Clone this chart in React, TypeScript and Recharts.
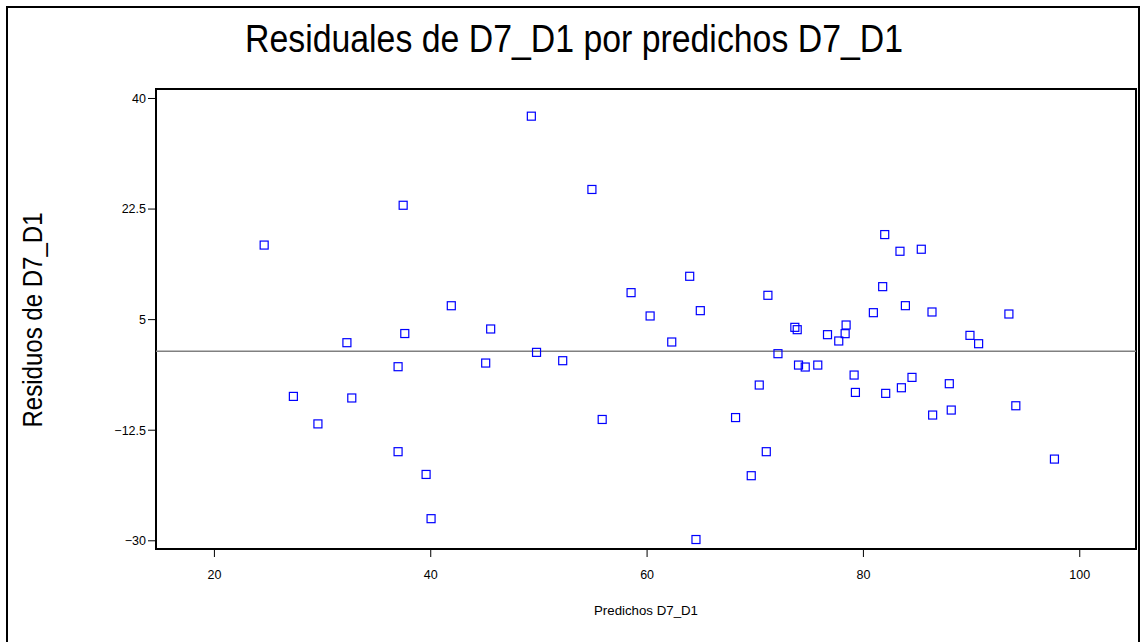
import { ScatterChart, Scatter, XAxis, YAxis, ReferenceLine, ReferenceArea } from "recharts";

// valores (predicho, residuo)
const predichos = [
  24.6, 37.45, 41.9, 37.6, 32.25, 36.98, 27.3, 32.7, 29.57, 36.98, 39.57, 40.03,
  49.3, 54.9, 63.94, 58.52, 71.17, 64.92, 60.28, 45.54, 62.28, 49.78, 72.1, 45.08,
  52.2, 70.37, 55.85, 68.18, 71.02, 69.63, 64.52, 81.97, 83.38, 85.35, 81.78, 83.88,
  80.92, 86.34, 93.45, 73.66, 73.88, 78.4, 78.31, 76.68, 77.72, 89.85, 90.65, 74.0,
  74.62, 75.78, 79.14, 84.49, 87.94, 83.51, 79.26, 82.06, 94.09, 88.12, 86.4, 97.66,
];
const residuos = [
  16.8, 23.1, 7.2, 2.8, 1.35, -2.45, -7.15, -7.4, -11.5, -15.9, -19.5, -26.5,
  37.2, 25.6, 11.86, 9.27, 8.85, 6.42, 5.58, 3.52, 1.46, -0.18, -0.39, -1.87,
  -1.5, -5.35, -10.8, -10.5, -15.9, -19.7, -29.8, 18.46, 15.82, 16.14, 10.22, 7.21,
  6.1, 6.21, 5.89, 3.78, 3.41, 4.15, 2.78, 2.62, 1.62, 2.51, 1.19, -2.19,
  -2.5, -2.19, -3.77, -4.14, -5.14, -5.78, -6.52, -6.67, -8.63, -9.31, -10.1, -17.07,
];
const xTicks = [20, 40, 60, 80, 100];
const yTicks = [40, 22.5, 5, -12.5, -30];

const X_MIN = 14.6;
const X_MAX = 105.2;
const Y_MIN = -31.3;
const Y_MAX = 41.5;

const data = predichos.map((x, i) => ({ x, y: residuos[i] }));

const FONT = "'Liberation Sans', Arial, Helvetica, sans-serif";

const SquareMarker = (props: any) => {
  const { cx, cy } = props;
  if (cx == null || cy == null) return null;
  return <rect x={cx - 4} y={cy - 4} width={8} height={8} fill="none" stroke="#0000ff" strokeWidth={1.2} />;
};

const fmtY = (v: number) => (v < 0 ? "\u2212" + Math.abs(v) : String(v));

export default function App() {
  return (
    <div style={{ position: "absolute", left: 0, top: 0, width: 1142, height: 642, background: "#fff", overflow: "hidden" }}>
      <div
        style={{
          position: "absolute",
          left: 6,
          top: 6,
          width: 1130,
          height: 660,
          borderLeft: "2px solid #000",
          borderTop: "2px solid #000",
          borderRight: "2px solid #000",
        }}
      />
      <ScatterChart width={1142} height={642} margin={{ top: 89, right: 6, bottom: 63, left: 96 }}>
        <XAxis
          type="number"
          dataKey="x"
          domain={[X_MIN, X_MAX]}
          allowDataOverflow
          ticks={xTicks}
          height={30}
          tickSize={8}
          tickMargin={13}
          axisLine={false}
          tickLine={{ stroke: "#000" }}
          tick={{ fill: "#000", fontSize: 12.5, fontFamily: FONT }}
        />
        <YAxis
          type="number"
          dataKey="y"
          domain={[Y_MIN, Y_MAX]}
          allowDataOverflow
          ticks={yTicks}
          width={60}
          tickSize={8}
          axisLine={false}
          tickLine={{ stroke: "#000" }}
          tickFormatter={fmtY}
          tick={{ fill: "#000", fontSize: 12.5, fontFamily: FONT }}
        />
        <ReferenceLine y={0} stroke="#808080" strokeWidth={1.5} />
        <Scatter data={data} shape={SquareMarker} isAnimationActive={false} />
        <ReferenceArea
          x1={X_MIN}
          x2={X_MAX}
          y1={Y_MIN}
          y2={Y_MAX}
          fill="none"
          fillOpacity={0}
          stroke="#000"
          strokeWidth={2}
          ifOverflow="visible"
        />
      </ScatterChart>
      <svg width={1142} height={642} style={{ position: "absolute", left: 0, top: 0, pointerEvents: "none" }}>
        <text x={574} y={52} textAnchor="middle" fontSize={38} fontFamily={FONT} textLength={658} lengthAdjust="spacingAndGlyphs" fill="#000">
          Residuales de D7_D1 por predichos D7_D1
        </text>
        <text
          x={42}
          y={320}
          textAnchor="middle"
          fontSize={27}
          fontFamily={FONT}
          textLength={215}
          lengthAdjust="spacingAndGlyphs"
          transform="rotate(-90 42 320)"
          fill="#000"
        >
          Residuos de D7_D1
        </text>
        <text x={646} y={615} textAnchor="middle" fontSize={13} fontFamily={FONT} textLength={104} lengthAdjust="spacingAndGlyphs" fill="#000">
          Predichos D7_D1
        </text>
      </svg>
    </div>
  );
}
